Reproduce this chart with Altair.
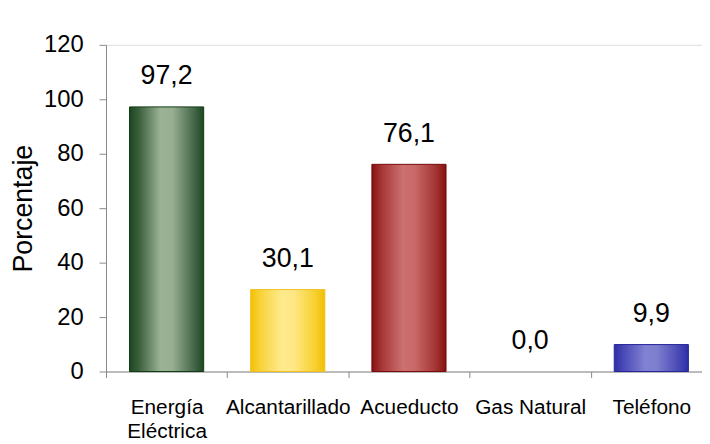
import altair as alt
import pandas as pd

categories = ["Energía Eléctrica", "Alcantarillado", "Acueducto", "Gas Natural", "Teléfono"]
values = [97.2, 30.1, 76.1, 0.0, 9.9]
y_ticks = [0, 20, 40, 60, 80, 100, 120]

# gradient stops (edge dark -> centre light -> edge dark) and outline colour per bar
styles = {
    "Energía Eléctrica": (["#1d4620", "#3c603d", "#9cb396", "#97ae91", "#44674a", "#1d4620"], "#103a12"),
    "Alcantarillado": (["#f3c000", "#f8d23a", "#ffea8e", "#ffe784", "#f7d030", "#f1bf00"], "#efc020"),
    "Acueducto": (["#861010", "#a63636", "#cd7070", "#c96868", "#a23232", "#861010"], "#760a0a"),
    "Gas Natural": (["#b07a20", "#c89a40", "#e8c880", "#e4c47a", "#c69840", "#b07a20"], None),
    "Teléfono": (["#2e2ea6", "#4a4ab8", "#8282d2", "#7e7ece", "#4848b6", "#2e2ea6"], "#24249a"),
}
offsets = [0.0, 0.13, 0.42, 0.58, 0.87, 1.0]

df = pd.DataFrame({"cat": categories, "val": values})

FONT = "Liberation Sans"

x_enc = alt.X(
    "cat:N",
    sort=categories,
    scale=alt.Scale(paddingInner=0, paddingOuter=0),
    axis=alt.Axis(
        title=None,
        labelAngle=0,
        labelFont=FONT,
        labelFontSize=21,
        labelColor="black",
        labelPadding=19,
        labelLineHeight=25,
        labelOverlap=False,
        labelLimit=0,
        labelBound=False,
        labelExpr="datum.label == 'Energía Eléctrica' ? ['Energía', 'Eléctrica'] : datum.label",
        tickBand="extent",
        tickSize=6,
        tickColor="#888888",
        domainColor="#888888",
        grid=False,
    ),
)
y_enc = alt.Y(
    "val:Q",
    scale=alt.Scale(domain=[0, 120], nice=False),
    axis=alt.Axis(
        title="Porcentaje",
        titleFont=FONT,
        titleFontSize=27,
        titleFontWeight="normal",
        titleColor="black",
        titlePadding=6,
        values=y_ticks,
        labelFont=FONT,
        labelFontSize=24,
        labelColor="black",
        labelPadding=16,
        tickSize=7,
        tickColor="#888888",
        domainColor="#888888",
        grid=False,
    ),
)

base = alt.Chart(df)
layers = []
for c in categories:
    stops, stroke = styles[c]
    grad = alt.LinearGradient(
        gradient="linear",
        x1=0, x2=1, y1=0, y2=0,
        stops=[alt.GradientStop(color=s, offset=o) for s, o in zip(stops, offsets)],
    )
    mark_kwargs = dict(color=grad, width=alt.RelativeBandSize(band=0.612))
    if stroke:
        mark_kwargs.update(stroke=stroke, strokeWidth=1)
    layers.append(
        base.transform_filter(alt.datum.cat == c).mark_bar(**mark_kwargs).encode(x=x_enc, y=y_enc)
    )

text = base.transform_calculate(
    lab="replace(format(datum.val, '.1f'), '.', ',')"
).mark_text(
    dy=-23, baseline="alphabetic", font=FONT, fontSize=27, color="black"
).encode(x=x_enc, y=y_enc, text="lab:N")

chart = alt.layer(*layers, text).properties(
    width=612,
    height=330,
    autosize=alt.AutoSizeParams(type="none"),
    padding={"left": 99, "top": 35, "right": -10, "bottom": 70},
).configure_view(stroke=None).configure(background="white")

chart.save("out.html", embed_options={"renderer": "svg", "actions": False})
